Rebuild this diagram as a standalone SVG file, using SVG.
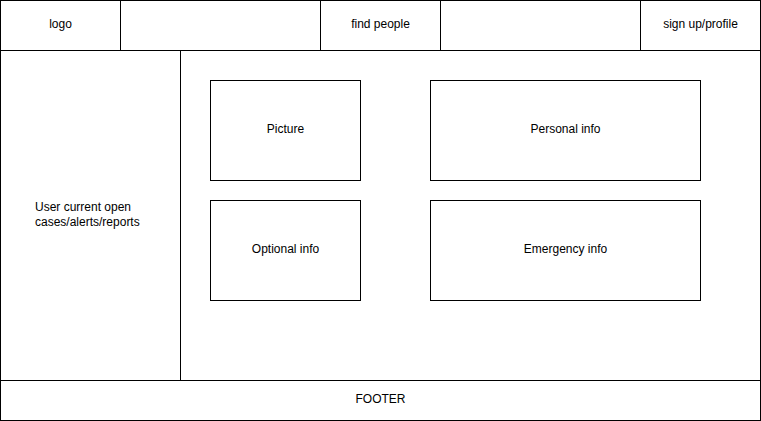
<svg xmlns="http://www.w3.org/2000/svg" width="761" height="421" viewBox="0 0 761 421">
<style>
rect{fill:#fff;stroke:#000;stroke-width:1}
text{font-family:"Liberation Sans",Arial,sans-serif;font-size:12px;fill:#000;text-anchor:middle}
.l{text-anchor:start}
</style>
<rect x="0" y="0" width="761" height="421" style="stroke:none"/>
<g id="logo"><rect x="0.5" y="0.5" width="120" height="50"/><text x="60.5" y="28">logo</text></g>
<g id="blank1"><rect x="120.5" y="0.5" width="200" height="50"/></g>
<g id="find"><rect x="320.5" y="0.5" width="120" height="50"/><text x="380.5" y="28">find people</text></g>
<g id="blank2"><rect x="440.5" y="0.5" width="200" height="50"/></g>
<g id="signup"><rect x="640.5" y="0.5" width="120" height="50"/><text x="700.5" y="28">sign up/profile</text></g>
<g id="sidebar"><rect x="0.5" y="50.5" width="180" height="330"/><text class="l" x="35" y="211">User current open</text><text class="l" x="35" y="226">cases/alerts/reports</text></g>
<g id="main"><rect x="180.5" y="50.5" width="580" height="330"/></g>
<g id="picture"><rect x="210.5" y="80.5" width="150" height="100"/><text x="285.5" y="133">Picture</text></g>
<g id="personal"><rect x="430.5" y="80.5" width="270" height="100"/><text x="565.5" y="133">Personal info</text></g>
<g id="optional"><rect x="210.5" y="200.5" width="150" height="100"/><text x="285.5" y="253">Optional info</text></g>
<g id="emergency"><rect x="430.5" y="200.5" width="270" height="100"/><text x="565.5" y="253">Emergency info</text></g>
<g id="footer"><rect x="0.5" y="380.5" width="760" height="40"/><text x="380.5" y="403">FOOTER</text></g>
<g id="connectors"></g>
</svg>
